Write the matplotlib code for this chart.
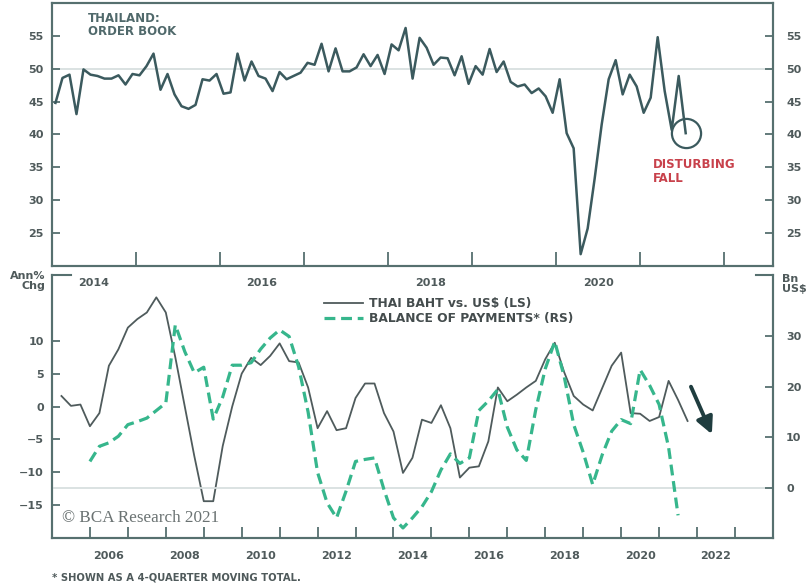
import matplotlib
matplotlib.use("Agg")
import matplotlib.pyplot as plt
import numpy as np

# Thailand order book, monthly from Jan 2014
order_book = [44.8, 48.6, 49.1, 43.1, 49.9, 49.1, 48.9, 48.5, 48.5, 49.0,
              47.6, 49.2, 49.0, 50.4, 52.3, 46.8, 49.2, 46.1, 44.3, 43.9,
              44.5, 48.4, 48.2, 49.2, 46.2, 46.4, 52.3, 48.2, 51.1, 48.9,
              48.5, 46.6, 49.5, 48.4, 48.9, 49.4, 50.9, 50.6, 53.8, 49.6,
              53.1, 49.6, 49.6, 50.2, 52.2, 50.4, 52.1, 49.2, 53.7, 52.8,
              56.2, 48.5, 54.7, 53.2, 50.6, 51.7, 51.6, 49.0, 51.9, 47.7,
              50.4, 49.1, 53.0, 49.5, 51.1, 48.0, 47.3, 47.6, 46.3, 47.0,
              45.8, 43.3, 48.4, 40.2, 37.9, 21.8, 25.7, 33.3, 41.5, 48.4,
              51.3, 46.1, 49.1, 47.3, 43.3, 45.6, 54.8, 46.6, 40.7, 48.9,
              40.2]
order_start = 2014

# Thai baht vs US$ (ann % chg), quarterly from 2005Q1
baht = [1.6, 0.1, 0.3, -3.0, -1.0, 6.2, 8.7, 12.0, 13.3, 14.3, 16.6, 14.3,
        7.5, 0.0, -7.5, -14.4, -14.4,
        -6.0, 0.0, 5.0, 7.4, 6.3, 7.7, 9.6, 6.9, 6.7, 2.9, -3.3, -0.7, -3.6,
        -3.3, 1.3, 3.5, 3.5, -1.0, -3.8,
        -10.1, -7.8, -2.0, -2.5, 0.2, -3.3, -10.8, -9.3, -9.1, -5.3, 2.9, 0.8,
        1.8, 2.9, 3.9, 7.2, 9.7,
        5.2, 1.6, 0.3, -0.6, 2.8, 6.2, 8.2, -1.0, -1.1, -2.2, -1.6, 3.9, 1.0,
        -2.2]
baht_start = 2005.25

# Balance of payments (Bn US$, 4-quarter total), quarterly from 2005Q4
bop = [5.2, 8.2, 8.9, 10.2, 12.5, 13.1, 13.8, 15.3, 16.8, 32.3, 27.0, 22.8,
       23.9, 13.6, 18.0, 24.3, 24.3, 24.8, 27.5, 29.7, 31.3, 30.0, 24.0, 15.0,
       3.0, -3.0, -6.0, -0.7, 5.2, 5.6, 5.9, -0.4, -6.0, -8.0,
       -6.0, -3.8, -0.8, 3.5, 6.7, 4.8, 5.9, 15.3, 17.2, 19.5, 12.0, 7.5, 5.4,
       15.5, 23.6, 29.0, 22.0, 12.5, 7.0, 0.6, 6.5, 11.2, 13.5, 12.7, 23.4,
       20.3, 16.5, 8.0, -5.5]
bop_start = 2006.0

order_x = order_start + (np.arange(len(order_book)) + 0.5) / 12
baht_x = baht_start + 0.25 * np.arange(len(baht))
bop_x = bop_start + 0.25 * np.arange(len(bop))

FRAME = "#56706f"
LINE = "#3b5a5e"
BAHT = "#4f5b5c"
GREEN = "#36b68c"
RED = "#c8414b"
TXT = "#4f5a5b"
REF = "#d8dfdf"

plt.rcParams["font.family"] = ["DejaVu Sans"]

fig = plt.figure(figsize=(8.07, 5.85), dpi=100)


def style_frame(ax):
    for s in ax.spines.values():
        s.set_color(FRAME)
        s.set_linewidth(1.5)


# ---- bottom panel (added first so the top panel's year labels sit above it) ----
ax2 = fig.add_axes([0.0644, 0.0803, 0.8934, 0.4496])
ax2.patch.set_visible(False)
l1, = ax2.plot(baht_x, baht, color=BAHT, lw=1.3,
               label="THAI BAHT vs. US$ (LS)")
ax2.set_xlim(2005, 2024)
ax2.set_ylim(-20, 20)
style_frame(ax2)
ax2.spines["top"].set_visible(False)
ax2.set_yticks([-15, -10, -5, 0, 5, 10])
ax2.tick_params(axis="y", direction="in", length=6, width=1.3, color=FRAME,
                labelsize=8, labelcolor=TXT, pad=6)
ax2.set_xticks(range(2006, 2024))
ax2.set_xticks(np.arange(2006.5, 2023, 2), minor=True)
ax2.set_xticklabels([])
ax2.set_xticklabels([str(y) for y in range(2006, 2023, 2)], minor=True)
ax2.tick_params(axis="x", which="major", direction="in", length=8,
                width=1.3, color=FRAME)
ax2.tick_params(axis="x", which="minor", length=0, pad=9.5, labelsize=8,
                labelcolor=TXT)
for t in ax2.get_yticklabels() + ax2.get_xticklabels(minor=True):
    t.set_fontweight("bold")

ax3 = ax2.twinx()
ax3.axhline(0, color=REF, lw=1.3, zorder=0)
l2, = ax3.plot(bop_x, bop, color=GREEN, lw=2.3, dashes=(3.4, 1.8),
               label="BALANCE OF PAYMENTS* (RS)")
ax3.set_ylim(-10, 42.2)
ax3.set_yticks([0, 10, 20, 30])
ax3.tick_params(axis="y", direction="in", length=6, width=1.3, color=FRAME,
                labelsize=8, labelcolor=TXT, pad=9.5)
for t in ax3.get_yticklabels():
    t.set_fontweight("bold")
style_frame(ax3)
ax3.spines["top"].set_visible(False)

# longer top ticks under the unit labels
ax2.plot([0, 0.026], [1, 1], transform=ax2.transAxes, color=FRAME, lw=1.5,
         clip_on=False)
ax3.plot([0.977, 1], [1, 1], transform=ax3.transAxes, color=FRAME, lw=1.5,
         clip_on=False)

leg = ax3.legend([l1, l2], [l1.get_label(), l2.get_label()],
                 loc="upper left", bbox_to_anchor=(0.37, 0.935), frameon=False,
                 handlelength=3.2, handletextpad=0.5, labelspacing=0.2,
                 borderaxespad=0, prop={"size": 8.8, "weight": "bold"})
for t in leg.get_texts():
    t.set_color("#444c4d")

ax2.annotate("", xy=(2022.42, -4.6), xytext=(2021.81, 3.4),
             arrowprops=dict(arrowstyle="-|>,head_length=1.0,head_width=0.5",
                             color="#1f3d3f", lw=2.8))

# ---- top panel ----
ax1 = fig.add_axes([0.0644, 0.5453, 0.8934, 0.4496])
ax1.axhline(50, color=REF, lw=1.3, zorder=0)
ax1.plot(order_x, order_book, color=LINE, lw=1.8)
ax1.plot(order_x[-1], order_book[-1], marker="o", ms=21, mfc="none",
         mec=LINE, mew=1.6)
ax1.set_xlim(2014, 2022.58)
ax1.set_ylim(20, 60)
style_frame(ax1)
ax1.set_yticks(range(25, 60, 5))
ax1.tick_params(axis="y", direction="in", length=6, width=1.3, color=FRAME,
                labelsize=8, labelcolor=TXT, pad=6)
ax1.set_xticks(range(2015, 2023))
ax1.set_xticks([2014.5, 2016.5, 2018.5, 2020.5], minor=True)
ax1.set_xticklabels([])
ax1.set_xticklabels(["2014", "2016", "2018", "2020"], minor=True)
ax1.tick_params(axis="x", which="major", direction="in", length=10,
                width=1.3, color=FRAME)
ax1.tick_params(axis="x", which="minor", length=0, pad=9, labelsize=8,
                labelcolor=TXT)
for t in ax1.get_yticklabels() + ax1.get_xticklabels(minor=True):
    t.set_fontweight("bold")

ax1r = ax1.twinx()
ax1r.set_ylim(ax1.get_ylim())
ax1r.set_yticks(range(25, 60, 5))
ax1r.tick_params(axis="y", direction="in", length=6, width=1.3, color=FRAME,
                 labelsize=8, labelcolor=TXT, pad=9.5)
for t in ax1r.get_yticklabels():
    t.set_fontweight("bold")
style_frame(ax1r)

ax1.text(0.05, 0.966, "THAILAND:\nORDER BOOK", transform=ax1.transAxes,
         va="top", ha="left", fontsize=8.5, fontweight="bold", color="#50696b",
         linespacing=1.0)
ax1.text(2021.15, 36.5, "DISTURBING\nFALL", va="top", ha="left",
         fontsize=8.5, fontweight="bold", color=RED, linespacing=1.1)

fig.text(45 / 807, 1 - 271 / 585, "Ann%\nChg", ha="right", va="top",
         fontsize=8, fontweight="bold", color=TXT, linespacing=1.0)
fig.text(782 / 807, 1 - 274 / 585, "Bn\nUS$", ha="left", va="top",
         fontsize=8, fontweight="bold", color=TXT, linespacing=1.0)
fig.text(62 / 807, 1 - 518 / 585, "\u00a9 BCA Research 2021", ha="left",
         va="center", fontsize=12.3, family="Liberation Serif", color="#6a7272")
fig.text(52 / 807, 1 - 578 / 585, "* SHOWN AS A 4-QUAERTER MOVING TOTAL.",
         ha="left", va="center", fontsize=7.2, fontweight="bold", color=TXT)

fig.savefig("out.png", dpi=100)
